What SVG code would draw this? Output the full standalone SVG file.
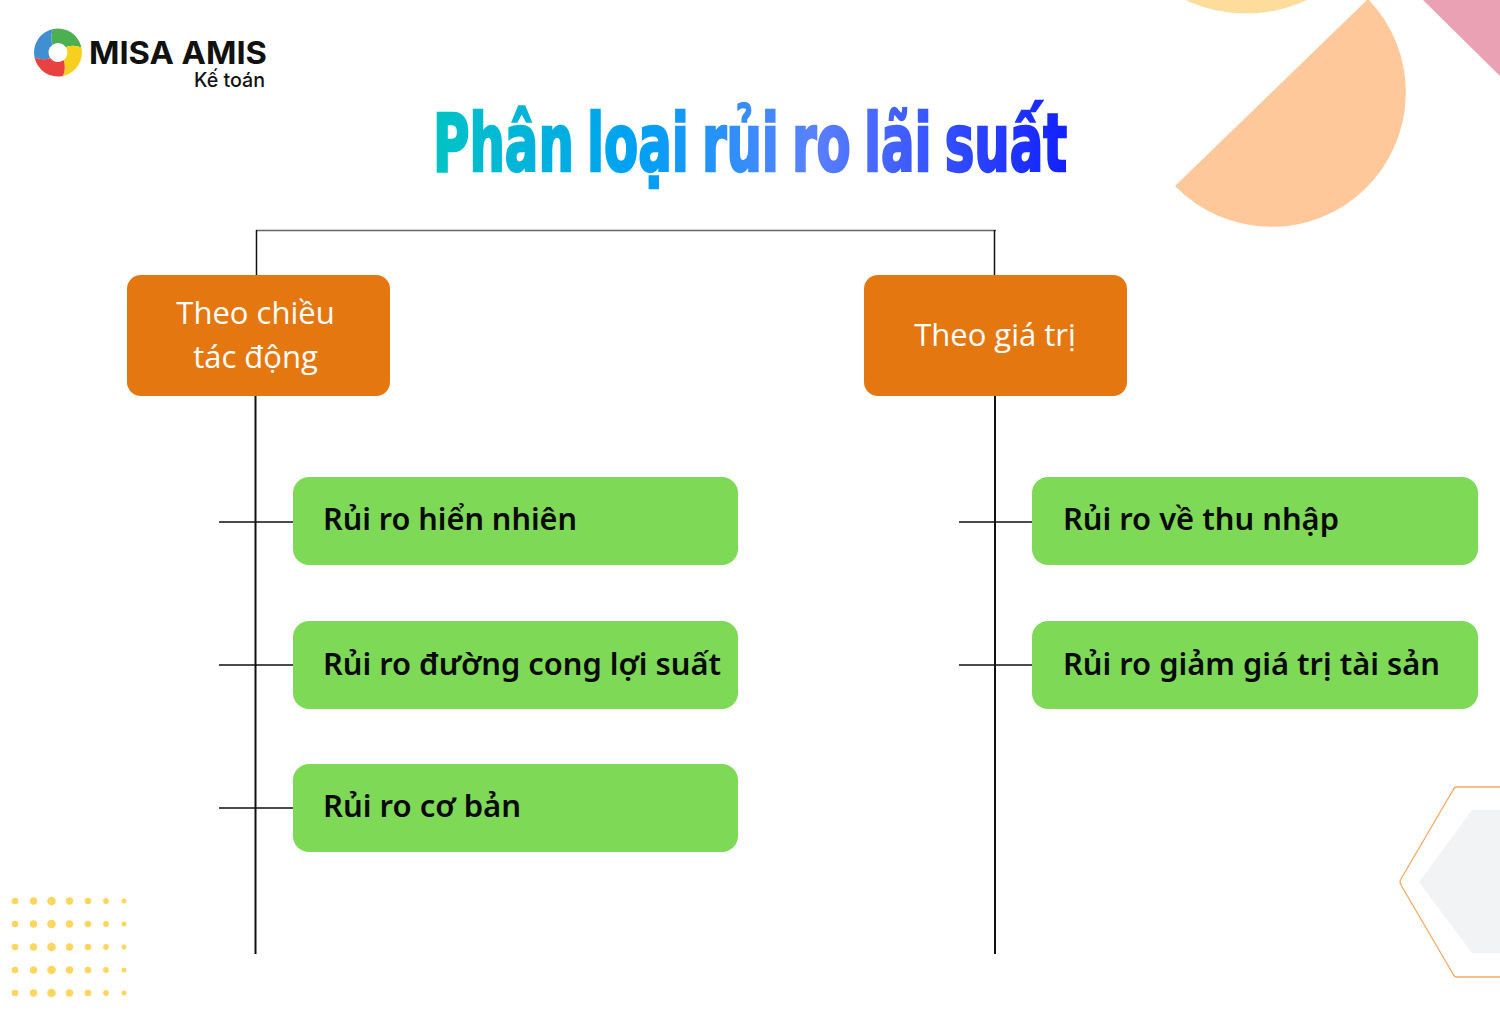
<svg xmlns="http://www.w3.org/2000/svg" width="1500" height="1014" viewBox="0 0 1500 1014">
<style>
.head{fill:#e57711}
.leaf{fill:#7ed957}
.ht{font-family:"Open Sans","Noto Sans",sans-serif;font-size:31px;fill:#fff;text-anchor:middle}
.lt{font-family:"Noto Sans","Open Sans",sans-serif;font-size:31px;font-weight:600;fill:#0a0a0a}
.trunk{stroke:#111;stroke-width:2;fill:none}
.top{stroke:#666;stroke-width:1.5;fill:none}
.dots circle{fill:#fdd65f}
.logo{font-family:Inter,"Liberation Sans",sans-serif;fill:#111}
</style>
<defs>
<linearGradient id="tg" gradientUnits="userSpaceOnUse" x1="432" y1="0" x2="1068" y2="0">
<stop offset="0" stop-color="#00c4c4"/><stop offset=".33" stop-color="#00a0f5"/><stop offset=".6" stop-color="#5a80ff"/><stop offset="1" stop-color="#1020ff"/>
</linearGradient>
<path id="blade" d="M0 -24A24 24 0 0 1 24 0Q12 -8 0 0Q-8 -12 0 -24Z"/>
</defs>
<rect width="1500" height="1014" fill="#fff"/>
<g id="decor">
<path d="M1185 0A145 145 0 0 0 1307 0Z" fill="#fedd9c"/>
<path d="M1175 186L1368 -1A134 134 0 1 1 1175 186Z" fill="#fec89a"/>
<path d="M1423 0L1500 76V0Z" fill="#e9a1b3"/>
<path d="M1500 787H1457Q1454 787 1453 790L1401 879Q1399 882 1401 885L1453 974Q1454 977 1457 977H1500" fill="#fff" stroke="#f2ab63" stroke-width="1.3"/>
<path d="M1500 810H1472L1419 882L1472 953H1500Z" fill="#f1f3f5"/>
<g class="dots">
<g id="dr1"><circle cx="15" cy="901" r="3.3"/><circle cx="33.5" cy="901" r="3.7"/><circle cx="51.5" cy="901" r="4.3"/><circle cx="69.5" cy="901" r="3.7"/><circle cx="88" cy="901" r="3.3"/><circle cx="106" cy="901" r="2.9"/><circle cx="124" cy="901" r="2.5"/></g>
<use href="#dr1" y="23"/><use href="#dr1" y="46"/><use href="#dr1" y="69"/><use href="#dr1" y="92"/>
</g>
</g>
<g id="logo">
<g transform="translate(58 52.500) rotate(-12)">
<use href="#blade" fill="#4cb050"/>
<use href="#blade" fill="#f7cf1d" transform="rotate(90)"/>
<use href="#blade" fill="#e8413f" transform="rotate(180)"/>
<use href="#blade" fill="#3f8fd2" transform="rotate(270)"/>
<circle r="9.500" fill="#fff"/>
</g>
<text class="logo" x="89" y="64" font-size="31" font-weight="700" textLength="178" lengthAdjust="spacingAndGlyphs">MISA AMIS</text>
<text class="logo" x="194" y="87" font-size="20" font-weight="500" textLength="71" lengthAdjust="spacingAndGlyphs">Kế toán</text>
</g>
<g id="title">
<text x="433" y="170.500" font-family="'DejaVu Sans Condensed','DejaVu Sans',sans-serif" font-weight="700" font-size="80" fill="url(#tg)" stroke="url(#tg)" stroke-width="2.500" word-spacing="-6" textLength="634" lengthAdjust="spacingAndGlyphs">Phân loại rủi ro lãi suất</text>
</g>
<g id="connectors">
<path class="top" d="M256 230.500H996"/>
<path class="trunk" style="stroke-width:1.500" d="M256.500 230V275M994.500 230V275"/>
<path class="trunk" d="M255.500 396V954M995 396V954"/>
<path class="trunk" style="stroke-width:1.500" d="M219 522H293M219 665H293M219 808H293M959 522H1032M959 665H1032"/>
</g>
<g id="n-chieu"><rect class="head" x="127" y="275" width="263" height="121" rx="14"/><text class="ht" x="255.500" y="324">Theo chiều</text><text class="ht" x="255.500" y="368">tác động</text></g>
<g id="n-gia-tri"><rect class="head" x="864" y="275" width="263" height="121" rx="14"/><text class="ht" x="995" y="346">Theo giá trị</text></g>
<g id="n-hien-nhien"><rect class="leaf" x="293" y="477" width="445" height="88" rx="16"/><text class="lt" x="323" y="530" textLength="254" lengthAdjust="spacingAndGlyphs">Rủi ro hiển nhiên</text></g>
<g id="n-duong-cong"><rect class="leaf" x="293" y="621" width="445" height="88" rx="16"/><text class="lt" x="323" y="675" textLength="398" lengthAdjust="spacingAndGlyphs">Rủi ro đường cong lợi suất</text></g>
<g id="n-co-ban"><rect class="leaf" x="293" y="764" width="445" height="88" rx="16"/><text class="lt" x="323" y="817" textLength="198" lengthAdjust="spacingAndGlyphs">Rủi ro cơ bản</text></g>
<g id="n-thu-nhap"><rect class="leaf" x="1032" y="477" width="446" height="88" rx="16"/><text class="lt" x="1063" y="530" textLength="276" lengthAdjust="spacingAndGlyphs">Rủi ro về thu nhập</text></g>
<g id="n-giam-gia"><rect class="leaf" x="1032" y="621" width="446" height="88" rx="16"/><text class="lt" x="1063" y="675" textLength="377" lengthAdjust="spacingAndGlyphs">Rủi ro giảm giá trị tài sản</text></g>
</svg>
